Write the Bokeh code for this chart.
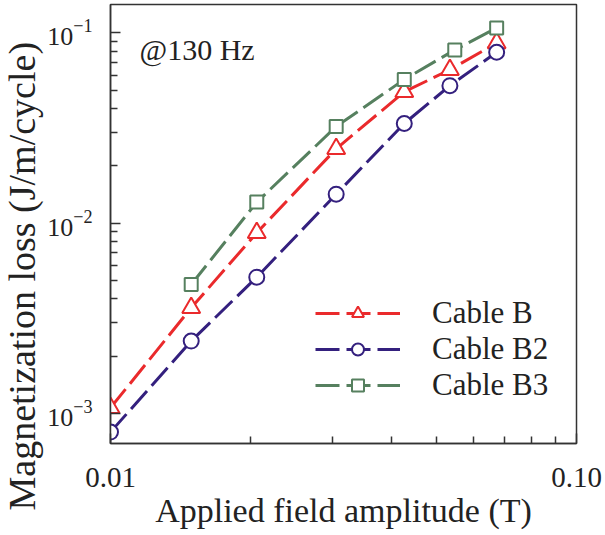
from bokeh.plotting import figure
from bokeh.models import FixedTicker, Legend, LegendItem, Label, Title
from bokeh.embed import file_html
from bokeh.resources import INLINE

# ---- data ----
series_names = ["Cable B", "Cable B2", "Cable B3"]
x_b = [0.01, 0.0149, 0.0206, 0.0305, 0.0427, 0.0535, 0.0674]
y_b = [0.00107, 0.00359, 0.0089, 0.0246, 0.049, 0.064, 0.0885]
x_b2 = [0.01, 0.0149, 0.0206, 0.0305, 0.0427, 0.0535, 0.0674]
y_b2 = [0.000798, 0.00240, 0.00520, 0.0142, 0.0334, 0.0528, 0.0791]
x_b3 = [0.0149, 0.0206, 0.0305, 0.0427, 0.0548, 0.0674]
y_b3 = [0.00476, 0.0129, 0.0322, 0.0569, 0.0814, 0.1062]

x_ticks = [0.01, 0.1]
x_tick_labels = ["0.01", "0.10"]
x_minor = [0.02, 0.03, 0.04, 0.05, 0.06, 0.07, 0.08, 0.09]
y_ticks = [0.001, 0.01, 0.1]
y_minor = [0.002, 0.003, 0.004, 0.005, 0.006, 0.007, 0.008, 0.009,
           0.02, 0.03, 0.04, 0.05, 0.06, 0.07, 0.08, 0.09]

FONT = "Liberation Serif"
RED = "#EA2A2C"
BLUE = "#34207E"
GREEN = "#56805F"
TXT = "#222222"

p = figure(width=605, height=535, x_axis_type="log", y_axis_type="log",
           x_range=(0.01, 0.1), y_range=(0.000695, 0.141),
           output_backend="svg", toolbar_location=None,
           min_border_left=108, min_border_right=29,
           min_border_top=4, min_border_bottom=92)

p.xgrid.visible = False
p.ygrid.visible = False
p.outline_line_color = "#333333"
p.outline_line_width = 1.5
p.background_fill_color = "white"

for ax in (p.xaxis[0], p.yaxis[0]):
    ax.axis_line_color = "#333333"
    ax.axis_line_width = 1.5
    ax.major_tick_line_color = "#333333"
    ax.minor_tick_line_color = "#333333"
    ax.major_tick_line_width = 1.5
    ax.minor_tick_line_width = 1.5
    ax.major_tick_out = 0
    ax.major_tick_in = 10
    ax.minor_tick_out = 0
    ax.minor_tick_in = 7
    ax.major_label_text_font = FONT
    ax.major_label_text_color = TXT

p.xaxis.ticker = FixedTicker(ticks=x_ticks, minor_ticks=x_minor)
p.xaxis.major_label_overrides = {t: l for t, l in zip(x_ticks, x_tick_labels)}
p.xaxis.major_label_text_font_size = "29px"
p.xaxis.major_label_standoff = 24
p.xaxis.axis_label = "Applied field amplitude (T)"
p.xaxis.axis_label_text_font = FONT
p.xaxis.axis_label_text_font_size = "34px"
p.xaxis.axis_label_text_font_style = "normal"
p.xaxis.axis_label_text_color = TXT
p.xaxis.axis_label_standoff = 2

p.yaxis.ticker = FixedTicker(ticks=y_ticks, minor_ticks=y_minor)
p.yaxis.major_label_text_font_size = "26px"
p.yaxis.major_label_standoff = 18

# y-axis title (placed like the reference, off-centre)
ytitle = Title(text="Magnetization loss (J/m/cycle)", align="left", offset=-67,
               vertical_align="top", standoff=0,
               text_font=FONT, text_font_size="38px", text_font_style="normal",
               text_color=TXT)
p.add_layout(ytitle, "left")

p.add_layout(Label(x=29, y=394, x_units="screen", y_units="screen",
                   text="@130 Hz", text_align="left", text_baseline="alphabetic",
                   text_font=FONT, text_font_size="30px", text_color=TXT))

DASH = "24 7"
l1 = p.line(x_b, y_b, line_color=RED, line_width=3, line_dash=DASH)
m1 = p.scatter(x_b, y_b, marker="triangle", size=18, line_color=RED,
               line_width=2, fill_color="white")
l2 = p.line(x_b2, y_b2, line_color=BLUE, line_width=3, line_dash=DASH)
m2 = p.scatter(x_b2, y_b2, marker="circle", size=15, line_color=BLUE,
               line_width=2, fill_color="white")
l3 = p.line(x_b3, y_b3, line_color=GREEN, line_width=3, line_dash=DASH)
m3 = p.scatter(x_b3, y_b3, marker="square", size=13, line_color=GREEN,
               line_width=2, fill_color="white")

legend = Legend(items=[
    LegendItem(label=series_names[0], renderers=[l1, m1]),
    LegendItem(label=series_names[1], renderers=[l2, m2]),
    LegendItem(label=series_names[2], renderers=[l3, m3]),
], location=(205, 40))
legend.background_fill_alpha = 0
legend.border_line_alpha = 0
legend.padding = 0
legend.margin = 0
legend.spacing = 0
legend.glyph_width = 85
legend.glyph_height = 30
legend.label_height = 35
legend.label_standoff = 32
legend.label_text_font = FONT
legend.label_text_font_size = "31px"
legend.label_text_color = TXT
legend.label_text_baseline = "middle"
p.add_layout(legend)

open("out.html", "w").write(file_html(p, INLINE))
